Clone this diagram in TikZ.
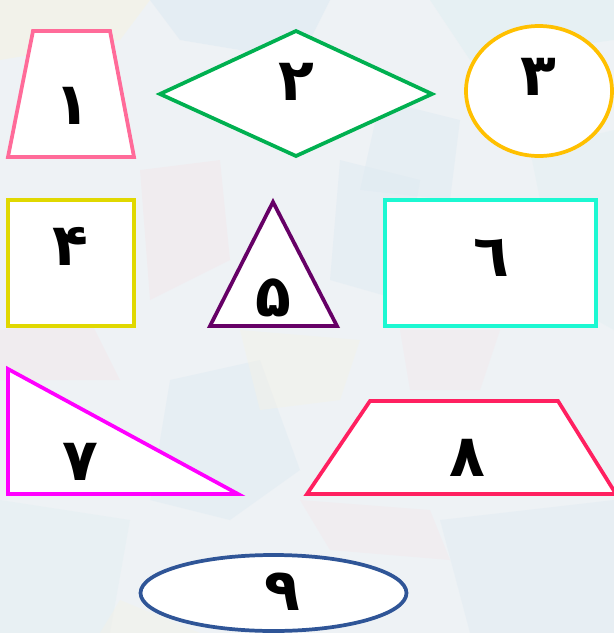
\documentclass[tikz,border=0pt]{standalone}
\usepackage{fontspec}
\newfontfamily\arabicfont[Script=Arabic]{DejaVu Sans}
\TeXXeTstate=1
\definecolor{bgbase}{HTML}{EEF2F5}
\definecolor{bgblue}{HTML}{DCE9F2}
\definecolor{bgpink}{HTML}{F5E4E8}
\definecolor{bgyel}{HTML}{F5F2E4}
\definecolor{bgcyan}{HTML}{E0EFF2}
\definecolor{cpink}{HTML}{FF6B99}
\definecolor{cgreen}{HTML}{00B050}
\definecolor{corange}{HTML}{FFC000}
\definecolor{cyellow}{HTML}{E0D800}
\definecolor{cpurple}{HTML}{660066}
\definecolor{ccyan}{HTML}{1CF8D2}
\definecolor{cmagenta}{HTML}{FF00FF}
\definecolor{ccrimson}{HTML}{FF2060}
\definecolor{cblue}{HTML}{2F5597}
\begin{document}
\begin{tikzpicture}[x=0.75pt,y=-0.75pt,
  shp/.style={draw=#1,fill=white,line width=2.8pt,line join=miter},
  dig/.style={font=\arabicfont\bfseries\fontsize{44}{52}\selectfont,inner sep=0pt,text=black}]
\useasboundingbox (0,0) rectangle (614,633);
% background
\fill[bgbase] (0,0) rectangle (614,633);
\fill[bgblue,opacity=0.5] (150,0) -- (330,0) -- (300,60) -- (180,40) -- cycle;
\fill[bgyel,opacity=0.6] (0,0) -- (150,0) -- (120,40) -- (0,60) -- cycle;
\fill[bgcyan,opacity=0.5] (430,0) -- (614,0) -- (614,40) -- (470,60) -- cycle;
\fill[bgblue,opacity=0.4] (380,100) -- (460,120) -- (450,200) -- (360,190) -- cycle;
\fill[bgpink,opacity=0.4] (140,170) -- (220,160) -- (230,260) -- (150,300) -- cycle;
\fill[bgblue,opacity=0.4] (340,160) -- (420,180) -- (400,300) -- (330,280) -- cycle;
\fill[bgcyan,opacity=0.4] (530,150) -- (614,130) -- (614,330) -- (560,300) -- cycle;
\fill[bgpink,opacity=0.4] (0,330) -- (90,320) -- (120,380) -- (0,380) -- cycle;
\fill[bgblue,opacity=0.4] (170,380) -- (260,360) -- (300,470) -- (230,520) -- (150,500) -- cycle;
\fill[bgyel,opacity=0.4] (240,330) -- (360,340) -- (340,400) -- (260,410) -- cycle;
\fill[bgpink,opacity=0.35] (400,330) -- (500,330) -- (480,390) -- (410,390) -- cycle;
\fill[bgcyan,opacity=0.4] (0,500) -- (130,520) -- (110,633) -- (0,633) -- cycle;
\fill[bgpink,opacity=0.35] (300,500) -- (430,510) -- (450,560) -- (330,550) -- cycle;
\fill[bgblue,opacity=0.35] (440,520) -- (614,500) -- (614,633) -- (470,633) -- cycle;
\fill[bgyel,opacity=0.4] (120,600) -- (200,633) -- (100,633) -- cycle;
% shapes
\draw[shp=cpink] (33,31) -- (110,31) -- (134,157) -- (8,157) -- cycle;
\draw[shp=cgreen] (160,94) -- (296,31) -- (432,94) -- (296,156) -- cycle;
\draw[shp=corange] (539,91) ellipse [x radius=73, y radius=65];
\draw[shp=cyellow] (8,200) rectangle (134,326);
\draw[shp=cpurple] (273,202) -- (337,326) -- (210,326) -- cycle;
\draw[shp=ccyan] (385,200) rectangle (596,326);
\draw[shp=cmagenta] (8,369) -- (238,494) -- (8,494) -- cycle;
\draw[shp=ccrimson] (370,401) -- (558,401) -- (616,494) -- (307,494) -- cycle;
\draw[shp=cblue] (273.5,593) ellipse [x radius=133, y radius=38];
% labels
\node[dig] (d1) at (72,106) {\beginR ۱\endR};
\node[dig] (d2) at (296,82) {\beginR ۲\endR};
\node[dig] (d3) at (538,77) {\beginR ۳\endR};
\node[dig] (d4) at (70,246) {\beginR ۴\endR};
\node[dig] (d5) at (273,298) {\beginR ۵\endR};
\node[dig] (d6) at (491,258) {\beginR ٦\endR};
\node[dig] (d7) at (80,462) {\beginR ۷\endR};
\node[dig] (d8) at (467,458) {\beginR ۸\endR};
\node[dig] (d9) at (282,592) {\beginR ۹\endR};
\end{tikzpicture}
\end{document}
